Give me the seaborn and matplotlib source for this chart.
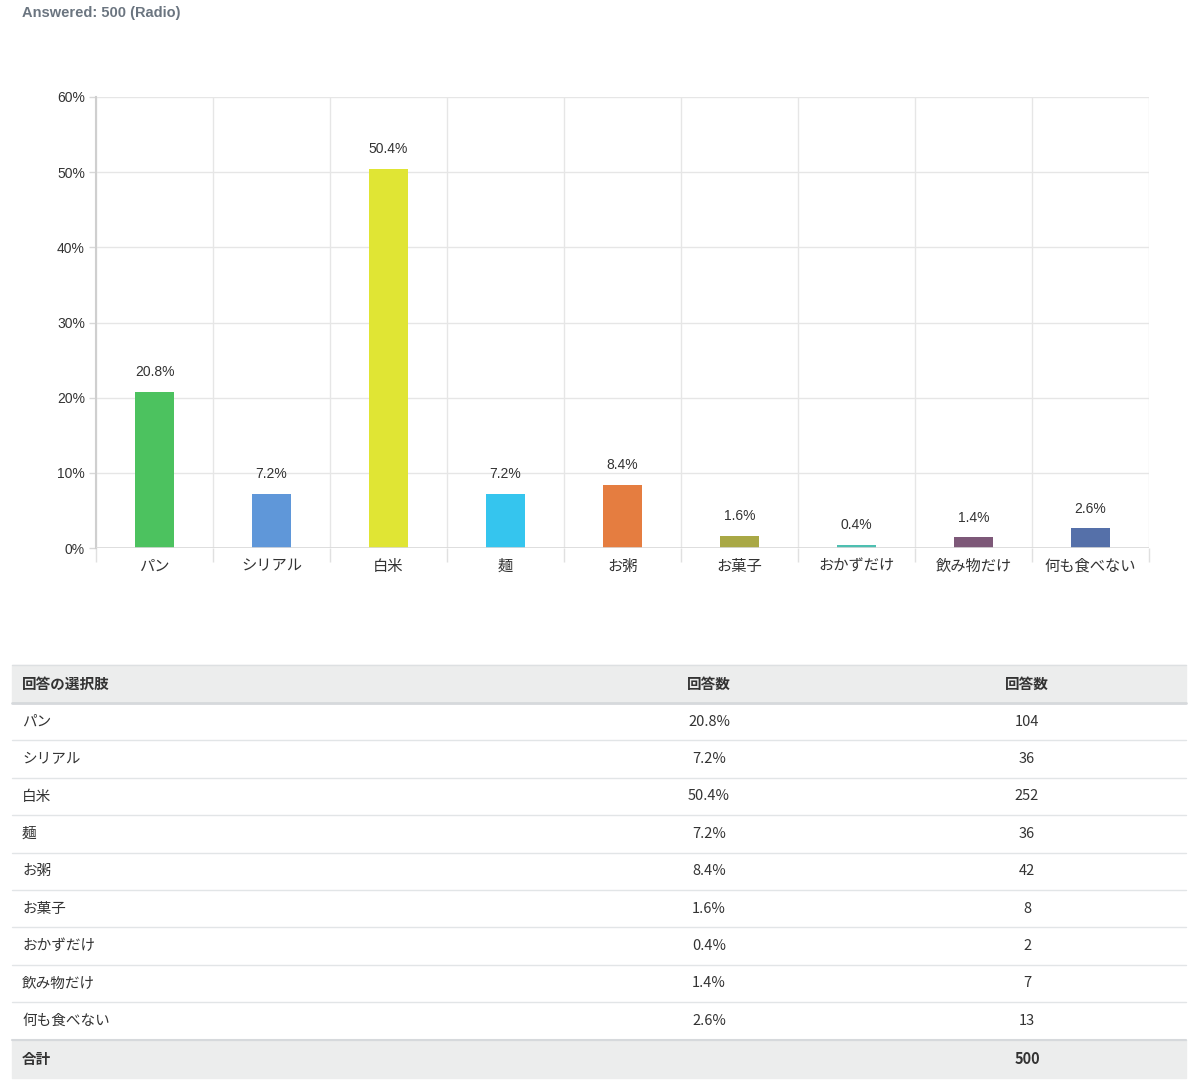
import matplotlib
matplotlib.use("Agg")
import matplotlib.pyplot as plt
import seaborn as sns
import pandas as pd
from matplotlib.patches import Rectangle

categories = ["パン", "シリアル", "白米", "麺", "お粥", "お菓子", "おかずだけ", "飲み物だけ", "何も食べない"]
percents = [20.8, 7.2, 50.4, 7.2, 8.4, 1.6, 0.4, 1.4, 2.6]
counts = [104, 36, 252, 36, 42, 8, 2, 7, 13]
total = 500
colors = ["#4CC25F", "#5F97D9", "#E0E534", "#35C5EE", "#E57D40",
          "#A9A845", "#4DBFB1", "#7D5878", "#5570A9"]
yticks = [0, 10, 20, 30, 40, 50, 60]
title = "Answered: 500 (Radio)"
table_headers = ["回答の選択肢", "回答数", "回答数"]
total_label = "合計"

sns.set_theme(style="white")
FONT = ["Liberation Sans", "Noto Sans CJK JP", "DejaVu Sans"]
plt.rcParams["font.family"] = FONT
JP = ["Noto Sans CJK JP"]

W, H = 1194, 1080
fig = plt.figure(figsize=(W / 100, H / 100), dpi=100)

# ---- chart ----
ax = fig.add_axes([96 / W, 1 - 548 / H, (1149 - 96) / W, (548 - 97) / H])
df = pd.DataFrame({"cat": categories, "pct": percents})
sns.barplot(data=df, x="cat", y="pct", hue="cat", palette=colors, width=0.34,
            legend=False, ax=ax, saturation=1, linewidth=0)
ax.set_xlim(-0.5, len(categories) - 0.5)
ax.set_ylim(0, 60)
ax.set_xlabel("")
ax.set_ylabel("")
ax.set_yticks(yticks)
ax.set_yticklabels([f"{v}%" for v in yticks], fontsize=10, color="#333333")
ax.tick_params(axis="y", left=True, length=5, color="#D8D8D8", pad=3, width=1)
ax.set_xticks(range(len(categories)))
ax.set_xticklabels(categories, fontsize=11, color="#333333", family=JP)
ax.tick_params(axis="x", which="major", bottom=True, length=0, pad=7)
ax.set_xticks([i - 0.5 for i in range(len(categories) + 1)], minor=True)
ax.tick_params(axis="x", which="minor", bottom=True, length=10, color="#E0E0E0", width=1)
for y in yticks:
    ax.axhline(y, color="#E6E6E6", lw=1, zorder=0)
for i in range(len(categories) + 1):
    ax.axvline(i - 0.5, color="#E6E6E6", lw=1, zorder=0)
ax.axhline(0, color="#D9D9D9", lw=1.2, zorder=3)
for s in ["top", "right", "bottom"]:
    ax.spines[s].set_visible(False)
ax.spines["left"].set_color("#CFCFCF")
ax.spines["left"].set_linewidth(1.5)
for i, v in enumerate(percents):
    ax.text(i, v + 1.7, f"{v}%", ha="center", va="bottom", fontsize=10, color="#333333")

# ---- overlay for title and table ----
ov = fig.add_axes([0, 0, 1, 1], facecolor="none")
ov.set_xlim(0, W)
ov.set_ylim(H, 0)
ov.axis("off")
ov.text(22, 13, title, fontsize=10.5, fontweight="bold", color="#6B7580", va="center", ha="left")

x0, x1 = 12, 1186
row_h = 37.4
top = 665
ov.add_patch(Rectangle((x0, top), x1 - x0, 38, color="#ECEDED", zorder=0))
ov.plot([x0, x1], [top, top], color="#DDE0E2", lw=1)
ov.plot([x0, x1], [top + 38, top + 38], color="#D6D9DC", lw=2)
hy = top + 19
kw = dict(fontsize=10.5, color="#333333", va="center", family=JP)
ov.text(22, hy, table_headers[0], fontweight="bold", **kw)
ov.text(709, hy, table_headers[1], fontweight="bold", ha="center", **kw)
ov.text(1027, hy, table_headers[2], fontweight="bold", ha="center", **kw)
y = top + 38
for cat, p, c in zip(categories, percents, counts):
    cy = y + row_h / 2
    ov.text(22, cy, cat, fontweight="normal", **kw)
    ov.text(709, cy, f"{p}%", ha="center", fontweight="normal", **kw)
    ov.text(1027, cy, f"{c}", ha="center", fontweight="normal", **kw)
    y += row_h
    ov.plot([x0, x1], [y, y], color="#E2E5E7", lw=1)
ov.add_patch(Rectangle((x0, y), x1 - x0, 38, color="#ECEDED", zorder=0))
ov.plot([x0, x1], [y, y], color="#D6D9DC", lw=1.5)
ov.text(22, y + 19, total_label, fontweight="bold", **kw)
ov.text(1027, y + 19, f"{total}", fontweight="bold", ha="center", **kw)

fig.savefig("out.png", dpi=100, facecolor="white")
